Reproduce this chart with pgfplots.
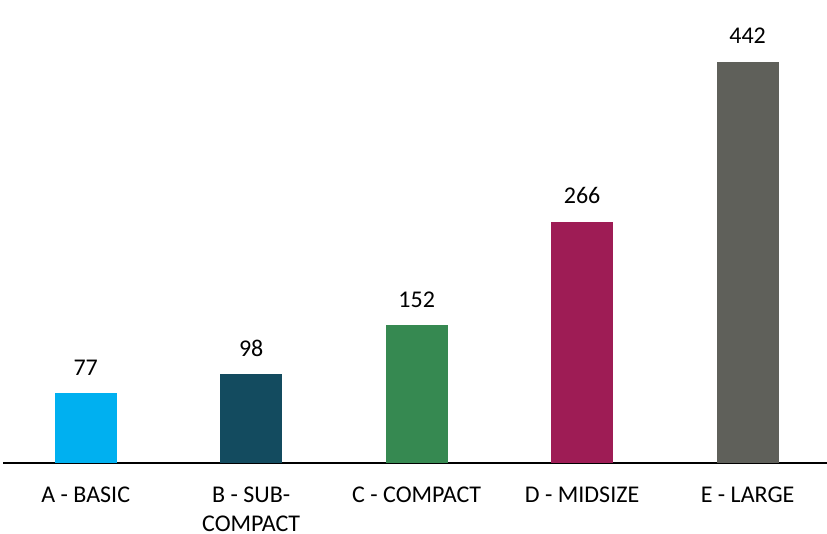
\documentclass[border=0pt]{standalone}
\usepackage{fontspec}
\setmainfont{Carlito}
\usepackage{pgfplots}
\pgfplotsset{compat=1.18}
\definecolor{cA}{HTML}{00B0F0}
\definecolor{cB}{HTML}{134B5F}
\definecolor{cC}{HTML}{368951}
\definecolor{cD}{HTML}{9E1C55}
\definecolor{cE}{HTML}{5F605A}
\begin{document}
\begin{tikzpicture}
\begin{axis}[
  scale only axis,
  width=824bp, height=463bp,
  xmin=-0.5, xmax=4.48,
  ymin=0, ymax=510,
  axis y line=none,
  axis x line=bottom,
  axis line style={-, black, line width=1.5bp},
  xtick={0,1,2,3,4},
  xticklabels={A - BASIC, {B - SUB-\\COMPACT}, C - COMPACT, D - MIDSIZE, E - LARGE},
  major tick length=0pt,
  /pgf/number format/assume math mode=true,
  xticklabel style={font=\fontsize{24bp}{29bp}\selectfont, align=center, anchor=north, inner sep=0pt, yshift=-24bp},
  ybar, bar width=0.375, bar shift=0pt,
  clip=false,
  nodes near coords,
  every node near coord/.append style={font=\fontsize{24bp}{29bp}\selectfont, anchor=base, yshift=18bp, black, inner sep=0pt},
]
\addplot[draw=none, fill=cA] coordinates {(0,77)};
\addplot[draw=none, fill=cB] coordinates {(1,98)};
\addplot[draw=none, fill=cC] coordinates {(2,152)};
\addplot[draw=none, fill=cD] coordinates {(3,266)};
\addplot[draw=none, fill=cE] coordinates {(4,442)};
\end{axis}
\pgfresetboundingbox
\path (current axis.south west) ++(-3bp,-71bp) coordinate (bl);
\path (current axis.north east) coordinate (tr);
\path[use as bounding box] (bl) rectangle (tr);
\end{tikzpicture}
\end{document}
